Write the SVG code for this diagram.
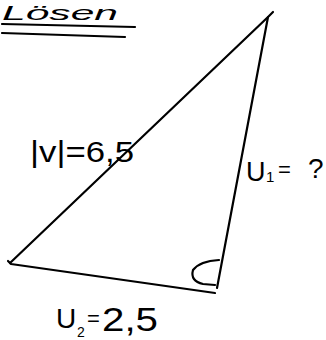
<svg xmlns="http://www.w3.org/2000/svg" width="326" height="340" viewBox="0 0 326 340">
<style>
.ln{fill:none;stroke:#000;stroke-width:2.2;stroke-linecap:round;stroke-linejoin:round}
.hw{font-family:"Liberation Sans","DejaVu Sans",sans-serif;fill:#000}
</style>
<rect width="326" height="340" fill="#fff"/>
<g id="heading">
<text class="hw" x="2" y="20" font-family="Liberation Serif" font-style="italic" font-size="21" textLength="116" lengthAdjust="spacingAndGlyphs">Lösen</text>
<path class="ln" d="M2,24 L135,27"/>
<path class="ln" d="M2,33 L125,37"/>
</g>
<g id="triangle">
<path class="ln" d="M273,12 L268,17 L10,263"/>
<path class="ln" d="M268,17 L217,288"/>
<path class="ln" d="M8,261 L11,264 L215,293"/>
<path class="ln" d="M219,260 Q200,261 193,270 Q190,281 203,284 L215,285"/>
</g>
<g id="labels">
<text class="hw" x="30" y="162" font-size="29" textLength="104" lengthAdjust="spacingAndGlyphs">|v|=6,5</text>
<text class="hw" x="246" y="181" font-size="27">U</text>
<text class="hw" x="266" y="182" font-size="15">1</text>
<text class="hw" x="278" y="177" font-size="22">=</text>
<text class="hw" x="308" y="178" font-size="28">?</text>
<text class="hw" x="56" y="328" font-size="28">U</text>
<text class="hw" x="77" y="337" font-size="14">2</text>
<text class="hw" x="87" y="326" font-size="22">=</text>
<text class="hw" x="102" y="331" font-size="34" textLength="56" lengthAdjust="spacingAndGlyphs">2,5</text>
</g>
</svg>
